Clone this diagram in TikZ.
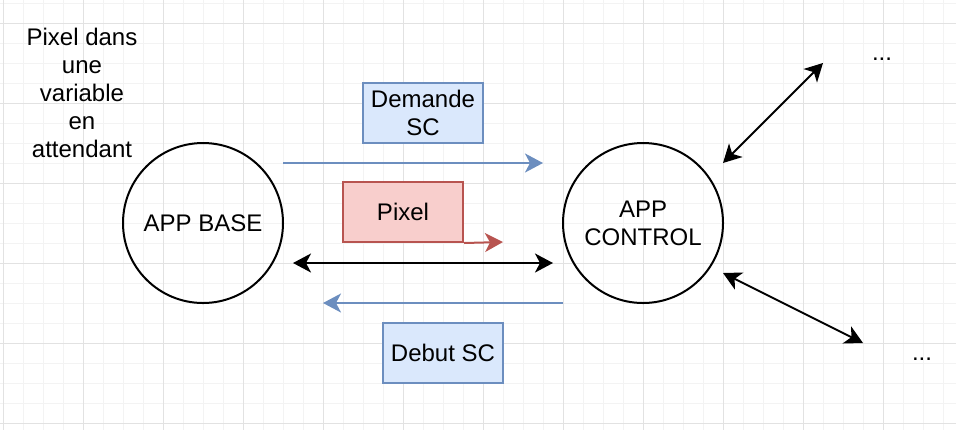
\documentclass[tikz,border=0pt]{standalone}
\usepackage{fontspec}
\setmainfont{Liberation Sans}
\usetikzlibrary{arrows.meta,positioning}

\definecolor{bluefill}{HTML}{DAE8FC}
\definecolor{blueline}{HTML}{6C8EBF}
\definecolor{redfill}{HTML}{F8CECC}
\definecolor{redline}{HTML}{B85450}
\definecolor{gridminor}{HTML}{F3F3F3}
\definecolor{gridmajor}{HTML}{E2E2E2}

\tikzstyle{app}=[draw,line width=1pt,circle,minimum size=80pt,inner sep=0pt,align=center]
\tikzstyle{bluebox}=[draw=blueline,fill=bluefill,line width=1pt,minimum width=60pt,minimum height=30pt,inner sep=0pt,align=center]
\tikzstyle{redbox}=[draw=redline,fill=redfill,line width=1pt,minimum width=60pt,minimum height=30pt,inner sep=0pt,align=center]
\tikzstyle{note}=[align=center,inner sep=0pt]
\tikzstyle{tip}=[-{Stealth[length=9pt,width=9.5pt,inset=2.5pt]}]
\tikzstyle{bothtip}=[{Stealth[length=9pt,width=9.5pt,inset=2.5pt]}-{Stealth[length=9pt,width=9.5pt,inset=2.5pt]}]
\tikzstyle{blueedge}=[draw=blueline,line width=1pt,tip,blueline]
\tikzstyle{rededge}=[draw=redline,line width=1pt,tip,redline]
\tikzstyle{blackedge}=[draw,line width=1pt,bothtip]

\begin{document}
\begin{tikzpicture}[x=0.5pt, y=-0.5pt, font=\fontsize{12pt}{14pt}\selectfont]
    \useasboundingbox (0,0) rectangle (956,430);
    % grid in the background
    \foreach \x in {3,23,...,943}
        \draw[gridminor, line width=0.5pt] (\x,0) -- (\x,430);
    \foreach \y in {3,23,...,423}
        \draw[gridminor, line width=0.5pt] (0,\y) -- (956,\y);
    \foreach \x in {3,83,...,883}
        \draw[gridmajor, line width=0.5pt] (\x,0) -- (\x,430);
    \foreach \y in {23,103,...,423}
        \draw[gridmajor, line width=0.5pt] (0,\y) -- (956,\y);

    % First we draw the two apps and the boxes
    \node[app] (base) at (203,223) {APP BASE};
    \node[app] (control) at (643,223) {APP\\CONTROL};
    \node[note] (wait) at (82,93) {Pixel dans\\une\\variable\\en\\attendant};
    \node[bluebox] (demande) at (423,113) {Demande\\SC};
    \node[redbox] (pixel) at (403,212) {Pixel};
    \node[bluebox] (debut) at (443,353) {Debut SC};
    \node[anchor=base] (topdots) at (882,60) {...};
    \node[anchor=base] (lowdots) at (922,360) {...};

    % Free ends of the connectors
    \foreach \x/\y/\name in {283/163/ds, 543/163/dt, 503/242/pt,
                             293/263/ls, 553/263/lt, 563/303/bs, 323/303/bt,
                             723/163/us, 823/63/ut, 723/273/ws, 863/343/wt}
        \coordinate (\name) at (\x,\y);

    % Connect them
    \foreach \source/\dest/\kind in {ds/dt/blueedge, pixel.south east/pt/rededge,
                                     ls/lt/blackedge, bs/bt/blueedge,
                                     us/ut/blackedge, ws/wt/blackedge}
        \path[\kind] (\source) -- (\dest);
\end{tikzpicture}
\end{document}
